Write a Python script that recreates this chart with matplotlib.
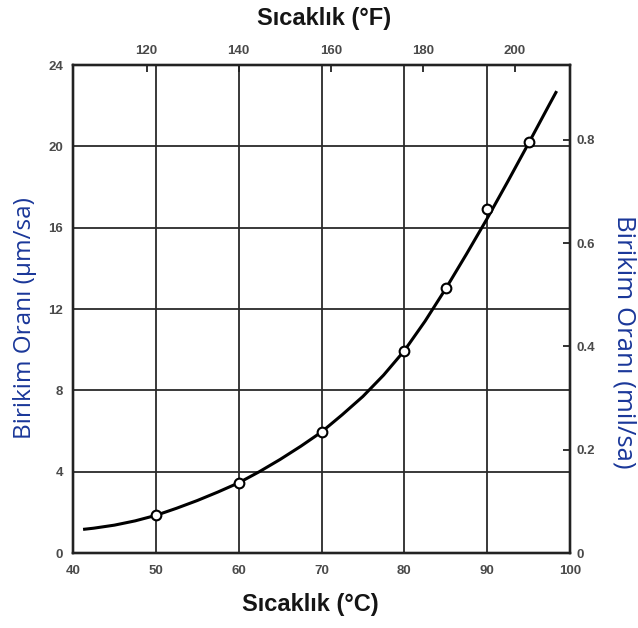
import matplotlib
matplotlib.use("Agg")
import matplotlib.pyplot as plt

# curve (deg C, um/sa)
curve_c = [41.4, 42.5, 45, 47.5, 50, 52.5, 55, 57.5, 60, 62.5, 65, 67.5, 70,
           72.5, 75, 77.5, 80, 82.5, 85, 87.5, 90, 92.5, 95, 97.5, 98.3]
curve_r = [1.17, 1.22, 1.37, 1.58, 1.85, 2.2, 2.58, 3.0, 3.45, 4.0, 4.6, 5.25, 5.95,
           6.8, 7.7, 8.75, 9.95, 11.4, 13.0, 14.7, 16.45, 18.28, 20.15, 22.05, 22.65]
# measured points (open circles)
pt_c = [50, 60, 70, 80, 85, 90, 95]
pt_r = [1.85, 3.45, 5.95, 9.95, 13.05, 16.9, 20.2]

c_ticks = [40, 50, 60, 70, 80, 90, 100]
r_ticks = [0, 4, 8, 12, 16, 20, 24]
f_ticks = [120, 140, 160, 180, 200]
mil_ticks = [0, 0.2, 0.4, 0.6, 0.8]

BLUE = "#1a3799"; INK = "#151515"; TICK = "#4a4a4a"; GRID = "#2a2a2a"

fig = plt.figure(figsize=(6.38, 6.28), dpi=100)
fig.patch.set_facecolor("white")
ax = fig.add_axes([73/638, 75/628, 497/638, 488/628])
ax.set_xlim(40, 100); ax.set_ylim(0, 24)

for v in c_ticks[1:-1]:
    ax.axvline(v, color=GRID, lw=1.3, zorder=1)
for v in r_ticks[1:-1]:
    ax.axhline(v, color=GRID, lw=1.3, zorder=1)

ax.plot(curve_c, curve_r, color="black", lw=2.2, zorder=3, solid_joinstyle="round")
ax.plot(pt_c, pt_r, "o", ms=7, mfc="white", mec="black", mew=1.5, zorder=4)

tk = dict(fontsize=9.5, color=TICK, fontweight="bold", family="Liberation Sans")
ax.set_xticks(c_ticks); ax.set_xticklabels([str(v) for v in c_ticks], **tk)
ax.set_yticks(r_ticks); ax.set_yticklabels([str(v) for v in r_ticks], **tk)
ax.tick_params(axis="x", length=0, pad=9)
ax.tick_params(axis="y", length=0, pad=7)
for s in ax.spines.values():
    s.set_linewidth(1.6); s.set_color("#222222")

# top axis in deg F
top = ax.twiny()
top.set_xlim(40*9/5+32, 100*9/5+32)
top.set_xticks(f_ticks); top.set_xticklabels([str(v) for v in f_ticks], **tk)
top.tick_params(direction="in", length=5, width=1.3, color="#222222", pad=6)

# right axis in mil/sa
rgt = ax.twinx()
rgt.set_ylim(0, 24/25.4)
rgt.set_yticks(mil_ticks); rgt.set_yticklabels([("%g" % v) for v in mil_ticks], **tk)
rgt.tick_params(direction="in", length=5, width=1.3, color="#222222", pad=5)
for a in (top, rgt):
    for s in a.spines.values():
        s.set_linewidth(1.6); s.set_color("#222222")

fig.text(324/638, 1-19/628, "Sıcaklık (°F)", ha="center", va="center",
         fontsize=17, fontweight="bold", color=INK, family="Liberation Sans")
fig.text(310/638, 1-605/628, "Sıcaklık (°C)", ha="center", va="center",
         fontsize=17, fontweight="bold", color=INK, family="Liberation Sans")
fig.text(25/638, 1-318/628, "Birikim Oranı (µm/sa)", ha="center", va="center",
         rotation=90, fontsize=17.5, color=BLUE, family="Open Sans")
fig.text(624/638, 1-342/628, "Birikim Oranı (mil/sa)", ha="center", va="center",
         rotation=-90, fontsize=18.5, color=BLUE, family="Open Sans")

fig.savefig("out.png", dpi=100, facecolor="white")
